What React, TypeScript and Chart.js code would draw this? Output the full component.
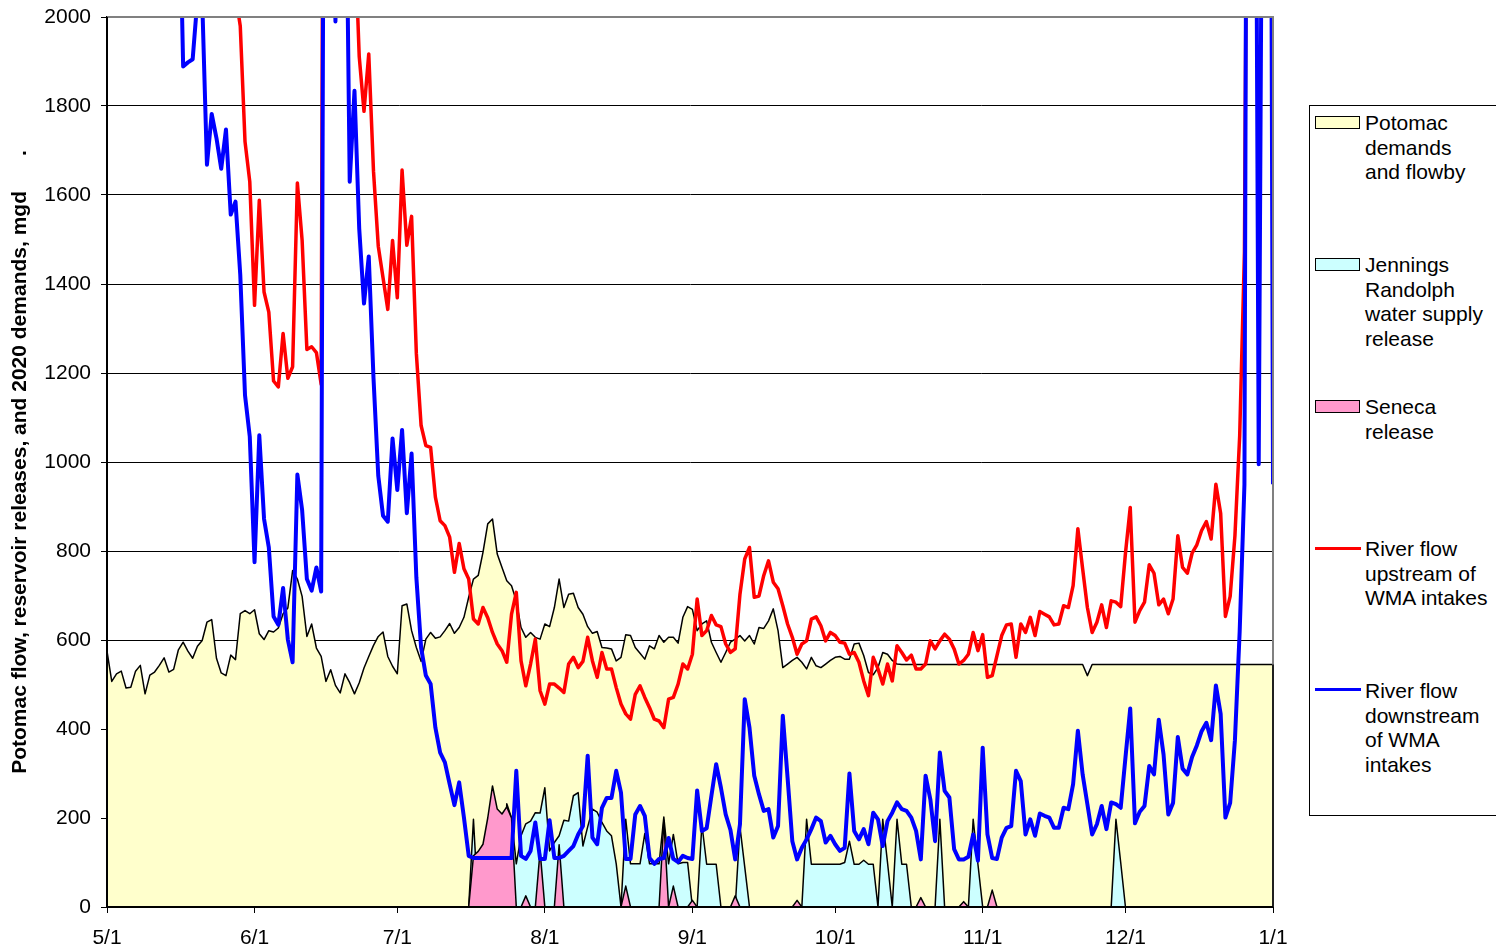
import React, { useEffect, useRef } from "react";
import { Chart, registerables } from "chart.js";

Chart.register(...registerables);

// ---- axis / tick labels ----
const MONTH_TICK_DAYS = [0, 31, 61, 92, 123, 153, 184, 214, 245];
const MONTH_TICK_LABELS = ["5/1", "6/1", "7/1", "8/1", "9/1", "10/1", "11/1", "12/1", "1/1"];
const Y_TITLE = "Potomac flow, reservoir releases, and 2020 demands, mgd      .";

// ---- series names ----
const NAME_DEMAND = "Potomac demands and flowby";
const NAME_JR = "Jennings Randolph water supply release";
const NAME_SENECA = "Seneca release";
const NAME_UP = "River flow upstream of WMA intakes";
const NAME_DOWN = "River flow downstream of WMA intakes";

// ---- daily values, 5/1 .. 1/1 (mgd) ----
const DEMAND = [
  575, 507, 524, 530, 492, 494, 530, 543, 479, 521,
  528, 543, 560, 528, 534, 578, 595, 575, 559, 586,
  599, 640, 646, 559, 526, 520, 566, 556, 659, 666,
  659, 668, 614, 601, 621, 618, 627, 659, 672, 756,
  737, 698, 608, 636, 582, 563, 507, 533, 498, 481,
  524, 504, 479, 504, 537, 563, 588, 608, 618, 563,
  541, 524, 677, 681, 621, 583, 552, 602, 617, 604,
  607, 621, 637, 615, 628, 651, 696, 737, 745, 797,
  861, 872, 793, 763, 733, 722, 688, 628, 606, 617,
  606, 602, 636, 630, 673, 737, 673, 703, 705, 673,
  658, 630, 615, 619, 583, 582, 580, 553, 561, 612,
  610, 583, 570, 557, 587, 580, 610, 595, 606, 606,
  593, 651, 675, 669, 621, 636, 643, 595, 572, 550,
  572, 595, 602, 610, 598, 610, 591, 628, 626, 643,
  670, 621, 538, 546, 554, 561, 550, 535, 561, 542,
  538, 546, 554, 561, 563, 557, 557, 591, 593, 565,
  527, 522, 538, 572, 568, 554, 546, 545, 545, 545,
  545, 545, 545, 545, 545, 545, 545, 545, 545, 545,
  545, 545, 545, 545, 545, 545, 545, 545, 545, 545,
  545, 545, 545, 545, 545, 545, 545, 545, 545, 545,
  545, 545, 545, 545, 545, 545, 520, 545, 545, 545,
  545, 545, 545, 545, 545, 545, 545, 545, 545, 545,
  545, 545, 545, 545, 545, 545, 545, 545, 545, 545,
  545, 545, 545, 545, 545, 545, 545, 545, 545, 545,
  545, 545, 545, 545, 545, 545,
];

const JENNINGS = [
  0, 0, 0, 0, 0, 0, 0, 0, 0, 0,
  0, 0, 0, 0, 0, 0, 0, 0, 0, 0,
  0, 0, 0, 0, 0, 0, 0, 0, 0, 0,
  0, 0, 0, 0, 0, 0, 0, 0, 0, 0,
  0, 0, 0, 0, 0, 0, 0, 0, 0, 0,
  0, 0, 0, 0, 0, 0, 0, 0, 0, 0,
  0, 0, 0, 0, 0, 0, 0, 0, 0, 0,
  0, 0, 0, 0, 0, 0, 0, 197, 0, 0,
  0, 0, 0, 0, 232, 200, 97, 160, 187, 193,
  212, 211, 268, 126, 145, 160, 195, 193, 250, 257,
  137, 180, 220, 213, 190, 171, 160, 97, 0, 197,
  97, 97, 97, 165, 97, 97, 97, 202, 97, 163,
  97, 100, 100, 0, 0, 186, 96, 96, 96, 0,
  0, 0, 0, 180, 90, 0, 0, 0, 0, 0,
  0, 0, 0, 0, 0, 0, 0, 197, 96, 96,
  96, 96, 96, 96, 96, 100, 148, 96, 96, 105,
  96, 96, 0, 197, 100, 0, 197, 96, 96, 0,
  0, 0, 0, 0, 0, 197, 0, 0, 0, 0,
  0, 0, 197, 96, 0, 0, 0, 0, 0, 0,
  0, 0, 0, 0, 0, 0, 0, 0, 0, 0,
  0, 0, 0, 0, 0, 0, 0, 0, 0, 0,
  0, 0, 197, 100, 0, 0, 0, 0, 0, 0,
  0, 0, 0, 0, 0, 0, 0, 0, 0, 0,
  0, 0, 0, 0, 0, 0, 0, 0, 0, 0,
  0, 0, 0, 0, 0, 0,
];

const SENECA = [
  0, 0, 0, 0, 0, 0, 0, 0, 0, 0,
  0, 0, 0, 0, 0, 0, 0, 0, 0, 0,
  0, 0, 0, 0, 0, 0, 0, 0, 0, 0,
  0, 0, 0, 0, 0, 0, 0, 0, 0, 0,
  0, 0, 0, 0, 0, 0, 0, 0, 0, 0,
  0, 0, 0, 0, 0, 0, 0, 0, 0, 0,
  0, 0, 0, 0, 0, 0, 0, 0, 0, 0,
  0, 0, 0, 0, 0, 0, 0, 115, 125, 141,
  200, 272, 220, 209, 225, 200, 0, 0, 25, 0,
  0, 126, 0, 0, 0, 140, 0, 0, 0, 0,
  0, 0, 0, 0, 0, 0, 0, 0, 0, 47,
  0, 0, 0, 0, 0, 0, 0, 195, 0, 47,
  0, 0, 0, 15, 0, 0, 0, 0, 0, 0,
  0, 0, 25, 0, 0, 0, 0, 0, 0, 0,
  0, 0, 0, 0, 0, 15, 0, 0, 0, 0,
  0, 0, 0, 0, 0, 0, 0, 0, 0, 0,
  0, 0, 0, 0, 0, 0, 0, 0, 0, 0,
  0, 21, 0, 0, 0, 0, 0, 0, 0, 0,
  12, 0, 0, 0, 0, 0, 38, 0, 0, 0,
  0, 0, 0, 0, 0, 0, 0, 0, 0, 0,
  0, 0, 0, 0, 0, 0, 0, 0, 0, 0,
  0, 0, 0, 0, 0, 0, 0, 0, 0, 0,
  0, 0, 0, 0, 0, 0, 0, 0, 0, 0,
  0, 0, 0, 0, 0, 0, 0, 0, 0, 0,
  0, 0, 0, 0, 0, 0,
];

const UPSTREAM = [
  4200, 4600, 4400, 4100, 3900, 3700, 3600, 3800, 4100, 4300,
  4000, 3700, 3500, 3300, 3400, 3600, 3400, 3200, 3000, 2900,
  3100, 3000, 2800, 2700, 2600, 2500, 2400, 2050, 1980, 1720,
  1630, 1352, 1588, 1382, 1337, 1182, 1169, 1289, 1188, 1214,
  1627, 1498, 1253, 1259, 1246, 1175, 4500, 4800, 5000, 4600,
  4000, 3200, 2200, 1911, 1788, 1917, 1653, 1485, 1414, 1343,
  1498, 1369, 1656, 1487, 1552, 1244, 1082, 1037, 1033, 921,
  868, 857, 831, 752, 817, 760, 737, 647, 636, 673,
  650, 617, 591, 576, 550, 658, 707, 553, 497, 546,
  602, 486, 456, 501, 501, 492, 482, 546, 561, 538,
  552, 606, 553, 516, 572, 535, 535, 493, 456, 434,
  422, 478, 497, 471, 448, 422, 418, 403, 467, 471,
  501, 546, 535, 568, 692, 610, 621, 655, 634, 630,
  591, 572, 580, 703, 782, 808, 696, 699, 745, 778,
  730, 715, 677, 636, 606, 568, 591, 598, 647, 652,
  632, 598, 617, 610, 595, 593, 568, 572, 550, 508,
  475, 561, 535, 501, 546, 508, 587, 572, 555, 566,
  535, 535, 546, 598, 580, 598, 613, 602, 580, 546,
  554, 568, 617, 576, 612, 516, 520, 565, 610, 634,
  636, 561, 636, 617, 651, 610, 664, 658, 652, 634,
  636, 677, 673, 722, 850, 760, 673, 617, 640, 679,
  628, 688, 685, 675, 795, 898, 640, 666, 685, 769,
  750, 679, 692, 659, 692, 834, 763, 750, 795, 814,
  846, 866, 827, 950, 885, 653, 698, 834, 1059, 1472,
  3300, 5200, 6400, 7500, 9000, 1400,
];

const DOWNSTREAM = [
  2600, 2900, 3300, 3100, 2800, 2500, 2700, 3000, 3400, 3200,
  2900, 2600, 2800, 3100, 2700, 2400, 1889, 1898, 1905, 2040,
  2040, 1668, 1782, 1728, 1659, 1747, 1556, 1585, 1421, 1150,
  1057, 775, 1060, 872, 808, 653, 634, 717, 601, 550,
  972, 892, 737, 711, 763, 709, 4000, 2600, 1990, 2800,
  2555, 1630, 1834, 1524, 1356, 1462, 1188, 969, 879, 866,
  1053, 937, 1072, 885, 1019, 741, 583, 520, 501, 403,
  347, 325, 276, 229, 280, 201, 115, 110, 110, 110,
  110, 110, 110, 110, 110, 110, 306, 115, 108, 126,
  190, 108, 108, 195, 110, 110, 115, 126, 137, 163,
  182, 340, 156, 141, 223, 245, 245, 306, 257, 108,
  108, 208, 227, 205, 110, 97, 108, 110, 155, 108,
  101, 115, 110, 108, 262, 171, 177, 250, 321, 268,
  208, 173, 107, 186, 467, 403, 295, 253, 216, 220,
  156, 182, 430, 291, 148, 107, 133, 152, 175, 201,
  193, 145, 160, 141, 126, 133, 300, 171, 152, 175,
  141, 212, 197, 137, 193, 212, 235, 220, 216, 201,
  171, 107, 295, 242, 148, 347, 261, 246, 130, 107,
  107, 113, 163, 104, 358, 163, 110, 108, 156, 178,
  182, 306, 283, 163, 197, 160, 210, 205, 201, 178,
  178, 223, 220, 276, 396, 298, 231, 163, 186, 227,
  175, 235, 231, 223, 336, 446, 188, 214, 227, 317,
  298, 421, 343, 208, 234, 382, 311, 298, 337, 363,
  395, 414, 375, 498, 434, 201, 234, 375, 620, 950,
  4500, 3500, 995, 3000, 4500, 950,
];

const COLOR_DEMAND = "#FFFFCC";
const COLOR_JR = "#CCFFFF";
const COLOR_SENECA = "#FF99CC";
const COLOR_UP = "#FF0000";
const COLOR_DOWN = "#0000FF";

const FONT_FAMILY = "'Liberation Sans', Arial, Helvetica, sans-serif";

const toPoints = (arr: number[]) => arr.map((v, i) => ({ x: i, y: v }));

const framePlugin = {
  id: "frame",
  afterDatasetsDraw(chart: any) {
    const { ctx, chartArea: a, scales } = chart;
    ctx.save();
    ctx.strokeStyle = "#808080";
    ctx.lineWidth = 2;
    ctx.beginPath();
    ctx.moveTo(a.left, a.top);
    ctx.lineTo(a.right, a.top);
    ctx.lineTo(a.right, a.bottom);
    ctx.stroke();
    const last = DEMAND.length - 1;
    const xr = scales.x.getPixelForValue(last);
    const yr = scales.y.getPixelForValue(DEMAND[last]);
    ctx.strokeStyle = "#000";
    ctx.lineWidth = 1.5;
    ctx.beginPath();
    ctx.moveTo(xr, yr);
    ctx.lineTo(xr, a.bottom);
    ctx.stroke();
    ctx.lineWidth = 2;
    ctx.beginPath();
    ctx.moveTo(a.left, a.bottom);
    ctx.lineTo(a.right, a.bottom);
    ctx.stroke();
    ctx.beginPath();
    ctx.moveTo(a.left, a.top);
    ctx.lineTo(a.left, a.bottom);
    ctx.stroke();
    ctx.restore();
  },
};

const legendTextStyle: React.CSSProperties = {
  position: "absolute",
  left: 55,
  fontFamily: FONT_FAMILY,
  fontSize: 21,
  lineHeight: "24.5px",
  color: "#000",
  whiteSpace: "nowrap",
};

function Swatch({ top, color }: { top: number; color: string }) {
  return (
    <div
      style={{
        position: "absolute",
        left: 5,
        top,
        width: 43,
        height: 11,
        background: color,
        border: "1.5px solid #000",
      }}
    />
  );
}

function LineSwatch({ top, color }: { top: number; color: string }) {
  return (
    <div
      style={{
        position: "absolute",
        left: 5,
        top,
        width: 46,
        height: 3,
        background: color,
      }}
    />
  );
}

export default function App() {
  const canvasRef = useRef<HTMLCanvasElement | null>(null);

  useEffect(() => {
    if (!canvasRef.current) return;
    Chart.defaults.font.family = FONT_FAMILY;
    Chart.defaults.color = "#000";
    const chart = new Chart(canvasRef.current, {
      type: "line",
      data: {
        datasets: [
          {
            label: NAME_DOWN,
            data: toPoints(DOWNSTREAM),
            borderColor: COLOR_DOWN,
            borderWidth: 4,
            pointRadius: 0,
            fill: false,
            order: 0,
            clip: 0,
            borderJoinStyle: "round",
          },
          {
            label: NAME_UP,
            data: toPoints(UPSTREAM),
            borderColor: COLOR_UP,
            borderWidth: 3.5,
            pointRadius: 0,
            fill: false,
            order: 1,
            clip: 0,
            borderJoinStyle: "round",
          },
          {
            label: NAME_SENECA,
            data: toPoints(SENECA),
            borderColor: "#000",
            backgroundColor: COLOR_SENECA,
            borderWidth: 1.5,
            pointRadius: 0,
            fill: "origin",
            order: 2,
            clip: 0,
            borderJoinStyle: "round",
          },
          {
            label: NAME_JR,
            data: toPoints(JENNINGS),
            borderColor: "#000",
            backgroundColor: COLOR_JR,
            borderWidth: 1.5,
            pointRadius: 0,
            fill: "origin",
            order: 3,
            clip: 0,
            borderJoinStyle: "round",
          },
          {
            label: NAME_DEMAND,
            data: toPoints(DEMAND),
            borderColor: "#000",
            backgroundColor: COLOR_DEMAND,
            borderWidth: 1.5,
            pointRadius: 0,
            fill: "origin",
            order: 4,
            clip: 0,
            borderJoinStyle: "round",
          },
        ],
      },
      options: {
        animation: false,
        responsive: false,
        devicePixelRatio: 1,
        layout: { padding: { left: 0, top: 17, right: 223, bottom: 0 } },
        plugins: {
          legend: { display: false },
          tooltip: { enabled: false },
        },
        elements: { line: { tension: 0 } },
        scales: {
          x: {
            type: "linear",
            min: 0,
            max: DEMAND.length - 1,
            afterBuildTicks: (s: any) => {
              s.ticks = MONTH_TICK_DAYS.map((v) => ({ value: v }));
            },
            afterFit: (s: any) => {
              s.height = 45;
            },
            ticks: {
              autoSkip: false,
              maxRotation: 0,
              minRotation: 0,
              padding: 13,
              color: "#000",
              font: { size: 21 },
              callback: (v: any) => {
                const i = MONTH_TICK_DAYS.indexOf(Number(v));
                return i >= 0 ? MONTH_TICK_LABELS[i] : "";
              },
            },
            grid: {
              drawOnChartArea: false,
              drawTicks: true,
              tickLength: 6,
              color: "#000",
              lineWidth: 1,
            },
            border: { display: true, color: "#000", width: 2 },
          },
          y: {
            type: "linear",
            min: 0,
            max: 2000,
            afterFit: (s: any) => {
              s.width = 107;
              s.paddingTop = 0;
            },
            ticks: {
              stepSize: 200,
              padding: 10,
              color: "#000",
              font: { size: 21 },
              callback: (v: any) => String(v),
            },
            grid: { color: "#000", lineWidth: 1, tickLength: 6 },
            border: { display: true, color: "#000", width: 2 },
            title: {
              display: true,
              text: Y_TITLE,
              color: "#000",
              font: { size: 21, weight: "bold" },
              padding: { top: 8, bottom: 0 },
            },
          },
        },
      },
      plugins: [framePlugin],
    } as any);
    return () => chart.destroy();
  }, []);

  return (
    <div
      style={{
        position: "fixed",
        left: 0,
        top: 0,
        width: 1496,
        height: 952,
        overflow: "hidden",
        background: "#fff",
      }}
    >
      <canvas ref={canvasRef} width={1496} height={952} style={{ display: "block" }} />
      <div
        style={{
          position: "absolute",
          left: 1309,
          top: 105,
          width: 200,
          height: 709,
          border: "1px solid #000",
          background: "#fff",
        }}
      >
        <Swatch top={10} color={COLOR_DEMAND} />
        <div style={{ ...legendTextStyle, top: 5 }}>
          Potomac
          <br />
          demands
          <br />
          and flowby
        </div>
        <Swatch top={152} color={COLOR_JR} />
        <div style={{ ...legendTextStyle, top: 147 }}>
          Jennings
          <br />
          Randolph
          <br />
          water supply
          <br />
          release
        </div>
        <Swatch top={294} color={COLOR_SENECA} />
        <div style={{ ...legendTextStyle, top: 289 }}>
          Seneca
          <br />
          release
        </div>
        <LineSwatch top={441} color={COLOR_UP} />
        <div style={{ ...legendTextStyle, top: 431 }}>
          River flow
          <br />
          upstream of
          <br />
          WMA intakes
        </div>
        <LineSwatch top={582} color={COLOR_DOWN} />
        <div style={{ ...legendTextStyle, top: 573 }}>
          River flow
          <br />
          downstream
          <br />
          of WMA
          <br />
          intakes
        </div>
      </div>
    </div>
  );
}
